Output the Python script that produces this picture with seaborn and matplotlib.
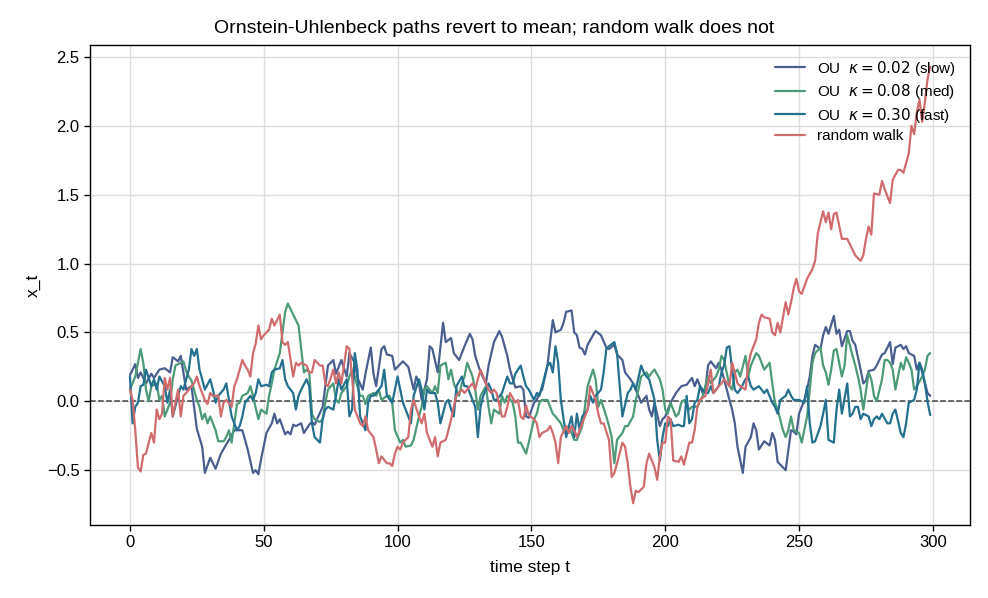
import pandas as pd
import matplotlib.pyplot as plt
import seaborn as sns

# values, as (time step, x_t)
slow_pts = [(0, .19), (2, .27), (3, .17), (4, .21), (6, .13), (8, .2), (9, .17), (11, .23), (13, .24), (15, .21),
            (16, .32), (18, .29), (19, .33), (21, .085), (23, .11), (25, -.2), (27, -.33), (28, -.52), (30, -.41),
            (32, -.49), (34, -.38), (37, -.28), (39, -.21), (42, -.21), (44, -.35), (46, -.52), (47, -.5), (48, -.53),
            (49, -.42), (51, -.23), (53, -.16), (54, -.09), (55, -.16), (56, -.13), (58, -.24), (59, -.22), (60, -.24),
            (61, -.17), (62, -.18), (64, -.16), (65, -.23), (67, -.17), (68, -.15), (69, -.17), (72, -.04), (73, .11),
            (74, .26), (76, .3), (77, .2), (79, .3), (81, .18), (82, .35), (84, .28), (85, .17), (87, .085), (88, .2),
            (90, .39), (91, .2), (92, .11), (94, .38), (95, .4), (96, .34), (98, .33), (99, .23), (102, .29), (104, .25),
            (106, .085), (107, .18), (108, .13), (109, .01), (111, .16), (112, .4), (113, .38), (115, .21), (117, .57),
            (118, .43), (120, .46), (121, .35), (123, .3), (125, .4), (127, .49), (128, .45), (129, .33), (131, .21),
            (133, .13), (134, .26), (136, .43), (138, .51), (139, .47), (141, .33), (142, .23), (144, .1), (146, .11),
            (147, .085), (148, -.11), (149, -.12), (151, -.01), (152, .01), (153, .06), (154, .085), (156, .26),
            (157, .43), (158, .59), (159, .5), (161, .52), (162, .57), (163, .65), (165, .66), (166, .5), (167, .48),
            (168, .39), (169, .38), (170, .34), (171, .41), (173, .48), (174, .51), (176, .48), (178, .39), (179, .38),
            (181, .41), (182, .34), (184, .3), (185, .21), (187, .16), (188, .13), (189, .085), (191, -.01), (193, .04),
            (194, -.06), (195, -.11), (196, -.01), (198, -.18), (199, -.13), (200, -.11), (202, -.01), (204, .06),
            (206, .11), (208, .12), (210, .17), (211, .11), (212, .16), (214, .06), (215, .085), (216, .26), (217, .29),
            (219, .24), (220, .28), (221, .23), (222, .16), (224, .01), (225, -.06), (226, -.16), (227, -.33),
            (229, -.52), (230, -.33), (232, -.26), (233, -.16), (234, -.21), (235, -.35), (237, -.29), (239, -.32),
            (240, -.23), (241, -.28), (242, -.44), (245, -.5), (247, -.21), (248, -.22), (249, -.24), (250, -.09),
            (251, -.04), (252, .01), (253, .085), (254, .18), (255, .33), (256, .41), (258, .38), (259, .48), (260, .54),
            (261, .49), (263, .62), (264, .49), (265, .52), (266, .4), (268, .51), (269, .51), (270, .44), (271, .41),
            (273, .23), (274, .13), (275, .15), (276, .22), (278, .23), (279, .26), (281, .34), (282, .35), (284, .43),
            (285, .27), (286, .39), (288, .41), (289, .38), (290, .4), (291, .35), (293, .33), (294, .23), (295, .28),
            (296, .21), (298, .06), (299, .04)]

med_pts = [(0, .085), (2, .18), (3, .28), (4, .38), (5, .28), (6, .085), (7, 0), (8, .11), (10, .13), (11, .01), (12, .04),
           (13, -.11), (15, -.01), (16, .16), (17, .26), (18, .27), (20, .29), (21, .22), (22, .18), (23, .15), (25, .01),
           (26, -.04), (27, -.13), (28, -.09), (29, -.16), (30, -.11), (32, -.21), (33, -.29), (35, -.29), (36, -.26),
           (37, -.21), (38, -.3), (40, -.02), (41, -.01), (42, .04), (44, .06), (45, .11), (46, .04), (47, -.05),
           (48, -.13), (49, -.06), (51, -.09), (52, .04), (53, .13), (54, .23), (56, .35), (57, .5), (58, .65), (59, .71),
           (60, .67), (61, .63), (63, .55), (64, .38), (65, .21), (66, .23), (67, .21), (68, -.09), (69, -.13),
           (71, -.15), (72, -.13), (73, -.01), (74, .085), (76, .13), (77, .01), (78, -.01), (79, .06), (81, .11),
           (82, .18), (83, .23), (84, .18), (86, .04), (87, .04), (88, -.02), (89, .04), (91, .06), (92, .04), (93, .085),
           (94, .01), (96, .04), (97, .04), (98, -.01), (99, -.21), (101, -.3), (102, -.28), (103, -.33), (105, -.32),
           (106, -.28), (108, -.11), (109, -.04), (110, .085), (111, .11), (113, .06), (114, .11), (115, .06), (116, .26),
           (118, .28), (119, .16), (120, .23), (121, .13), (123, .04), (124, .13), (125, .18), (126, .28), (128, .18),
           (129, .085), (130, -.06), (131, .04), (133, .11), (134, -.04), (135, -.16), (136, -.06), (138, -.09),
           (139, .04), (140, -.01), (141, .04), (143, -.01), (144, -.11), (145, -.3), (146, -.3), (148, -.38),
           (149, -.3), (151, -.13), (152, -.09), (153, -.01), (154, .01), (156, .01), (157, -.04), (158, -.09),
           (159, -.11), (161, -.16), (162, -.21), (163, -.23), (164, -.18), (166, -.28), (167, -.28), (169, -.18),
           (170, -.04), (171, .11), (173, .23), (174, .16), (175, -.04), (176, .01), (178, -.11), (179, -.18),
           (180, -.26), (181, -.45), (182, -.28), (184, -.23), (185, -.18), (186, -.18), (188, -.11), (189, .01),
           (190, .085), (191, .18), (193, .21), (194, .18), (195, .21), (196, .23), (198, .16), (199, .085), (200, -.06),
           (201, -.09), (202, -.01), (204, -.11), (205, -.09), (206, -.01), (207, .01), (209, -.06), (210, -.04),
           (211, -.04), (212, -.04), (214, .04), (215, .11), (216, .18), (217, .13), (219, .18), (220, .23), (221, .33),
           (222, .3), (224, .11), (225, .085), (226, .21), (227, .23), (228, .18), (230, .33), (231, .18), (232, .26),
           (234, .35), (235, .33), (236, .28), (237, .23), (239, .28), (240, .13), (241, -.01), (242, -.06), (244, -.21),
           (245, -.26), (246, -.21), (247, -.11), (248, -.21), (250, -.23), (251, -.3), (253, -.11), (254, .085),
           (255, .28), (256, .35), (258, .39), (259, .26), (260, .21), (261, .12), (262, .23), (263, .37), (264, .38),
           (266, .18), (267, .26), (268, .48), (270, .33), (271, .26), (272, .18), (273, .085), (274, -.06), (276, .21),
           (277, .16), (278, .04), (279, 0), (281, .16), (282, .3), (283, .3), (284, .28), (285, .23), (286, .085),
           (288, .28), (289, .23), (290, .32), (291, .28), (292, .23), (293, .085), (294, .11), (296, .18), (297, .23),
           (298, .33), (299, .35)]

fast_pts = [(0, .18), (1, -.16), (2, -.04), (3, -.01), (4, .11), (5, .12), (6, .23), (8, .11), (9, .16), (10, .085),
            (11, .18), (13, .11), (14, -.01), (15, .085), (16, -.11), (18, .04), (19, .11), (20, .085), (22, .23),
            (23, .38), (24, .33), (25, .38), (26, .23), (27, .16), (28, .085), (30, .16), (31, .085), (32, -.01),
            (33, .04), (35, .085), (36, .13), (37, .01), (38, -.11), (40, -.21), (41, -.18), (42, -.11), (43, -.01),
            (45, .04), (46, .01), (47, .06), (48, .16), (49, .11), (51, .12), (52, .11), (53, .21), (54, .23), (56, .24),
            (57, .3), (58, .16), (59, .11), (61, .06), (62, -.06), (63, .04), (64, .085), (66, .16), (67, .11),
            (68, -.16), (69, -.26), (71, -.3), (72, -.13), (73, -.06), (74, -.04), (76, -.06), (77, .04), (78, .16),
            (79, .085), (81, .16), (82, -.11), (83, -.06), (84, .35), (85, .23), (86, -.11), (88, -.21), (89, -.01),
            (90, .04), (91, .04), (93, .085), (94, .11), (95, .23), (96, .04), (98, -.01), (99, .085), (100, .18),
            (101, .085), (102, -.01), (104, -.11), (105, -.16), (106, .04), (108, .16), (109, .085), (110, -.06),
            (111, .085), (112, .06), (114, .06), (115, -.01), (116, -.16), (118, -.01), (119, .01), (120, -.06),
            (121, -.11), (122, .11), (124, .18), (125, .11), (126, .11), (127, .06), (129, -.04), (130, -.26),
            (131, -.04), (132, .04), (134, .13), (135, .085), (136, .01), (137, .01), (139, .06), (141, .18), (142, .13),
            (143, .13), (144, .2), (146, .26), (147, .18), (148, .11), (149, .085), (151, .01), (152, .06), (153, .04),
            (154, .11), (156, .26), (157, .28), (158, .21), (159, .4), (160, .28), (161, .01), (163, -.26), (164, -.18),
            (165, -.11), (166, -.26), (167, -.09), (168, -.21), (169, -.11), (171, -.06), (172, .04), (173, -.01),
            (174, .04), (176, .085), (177, .21), (178, .38), (179, .4), (181, .43), (182, .35), (183, .11), (184, -.11),
            (186, .06), (187, .085), (188, .13), (189, .085), (191, .26), (192, .21), (193, .18), (194, .16), (196, .01),
            (197, -.28), (198, -.43), (199, -.26), (200, -.16), (201, -.18), (202, -.13), (203, -.18), (205, -.17),
            (206, -.18), (207, -.18), (208, .04), (209, -.16), (210, -.13), (211, -.01), (212, .01), (213, .11),
            (215, .06), (216, .06), (217, .11), (218, .06), (220, .11), (221, .21), (222, .26), (223, .39), (224, .4),
            (225, .23), (226, .085), (227, .06), (228, .085), (230, .16), (231, .18), (232, .11), (233, .085), (235, .11),
            (236, .085), (237, .06), (238, .085), (240, -.01), (241, -.04), (242, -.09), (243, .01), (245, .04),
            (246, .085), (247, .04), (248, .01), (250, .01), (252, -.01), (253, .11), (254, -.16), (255, -.3),
            (256, -.29), (258, -.18), (259, -.09), (260, .01), (261, -.28), (263, -.3), (264, -.06), (265, .085),
            (266, -.09), (268, .13), (269, -.11), (270, -.09), (271, -.04), (272, -.04), (273, -.13), (274, -.09),
            (276, -.11), (277, -.18), (278, -.13), (279, -.11), (280, -.13), (281, -.09), (283, -.16), (284, -.16),
            (285, -.09), (286, -.06), (288, -.23), (289, -.26), (290, -.16), (291, -.01), (293, .01), (294, .085),
            (295, .28), (296, .23), (297, .13), (298, 0), (299, -.1)]

walk_pts = [(0, .085), (1, .01), (2, -.21), (3, -.48), (4, -.51), (5, -.39), (6, -.38), (7, -.3), (8, -.23), (9, -.3),
            (10, -.06), (11, -.13), (12, -.09), (13, .17), (14, .085), (15, .17), (16, -.11), (18, .085), (19, -.11),
            (20, .04), (21, .06), (23, .11), (24, .13), (25, .18), (26, .11), (28, .01), (29, -.02), (30, .06), (31, .04),
            (33, .04), (34, -.11), (35, -.01), (36, .01), (38, -.04), (39, .11), (40, .16), (42, .3), (43, .26),
            (44, .23), (45, .18), (46, .35), (47, .42), (48, .55), (49, .45), (50, .48), (52, .52), (53, .6), (54, .55),
            (56, .63), (57, .43), (58, .41), (59, .43), (61, .18), (62, .28), (63, .26), (64, .28), (66, .26), (67, .21),
            (68, .21), (69, .3), (71, .26), (72, .26), (73, .13), (74, .11), (76, .23), (77, .13), (78, .21), (79, .13),
            (81, .4), (82, .38), (83, .18), (84, -.06), (86, -.16), (87, -.18), (88, -.11), (89, -.21), (91, -.26),
            (92, -.35), (93, -.45), (94, -.4), (96, -.45), (97, -.45), (98, -.47), (99, -.38), (100, -.33), (101, -.35),
            (102, -.3), (104, -.26), (105, -.06), (106, .01), (108, -.11), (109, -.16), (110, -.09), (111, -.23),
            (113, -.33), (114, -.26), (115, -.4), (116, -.3), (118, -.28), (119, -.21), (120, -.13), (121, -.04),
            (122, .04), (124, .085), (125, .06), (126, .085), (128, .13), (129, .085), (130, .16), (131, .23), (133, .13),
            (134, .085), (135, .06), (136, .085), (137, .06), (139, -.11), (140, -.11), (141, -.04), (142, .06),
            (144, -.01), (145, .01), (146, -.11), (147, -.13), (148, -.03), (149, -.1), (151, -.13), (152, -.16),
            (153, -.26), (154, -.23), (156, -.21), (157, -.18), (158, -.23), (159, -.3), (160, -.45), (161, -.26),
            (163, -.18), (164, -.23), (165, -.18), (166, -.21), (167, -.26), (169, -.16), (170, -.11), (171, -.06),
            (172, .11), (174, .01), (175, -.09), (176, -.16), (177, -.16), (179, -.28), (180, -.55), (181, -.52),
            (182, -.45), (184, -.3), (185, -.33), (186, -.45), (187, -.62), (188, -.74), (189, -.65), (190, -.66),
            (192, -.62), (193, -.45), (194, -.38), (196, -.48), (197, -.57), (198, -.4), (199, -.3), (200, -.3),
            (201, -.11), (202, -.13), (203, -.43), (205, -.44), (206, -.4), (207, -.46), (209, -.3), (210, -.3),
            (211, -.21), (212, -.04), (213, .01), (215, .04), (216, .13), (217, .23), (218, .06), (220, .11), (221, .13),
            (222, .16), (224, .11), (225, .28), (226, .21), (227, .13), (228, .11), (230, .085), (231, .26), (232, .35),
            (234, .45), (235, .57), (236, .63), (237, .61), (239, .6), (240, .5), (241, .48), (242, .57), (243, .5),
            (245, .72), (246, .63), (247, .72), (248, .82), (249, .89), (250, .8), (251, .78), (253, .89), (255, .96),
            (256, 1.02), (257, 1.22), (259, 1.38), (260, 1.3), (261, 1.37), (262, 1.25), (263, 1.36), (264, 1.37),
            (266, 1.18), (268, 1.18), (270, 1.1), (271, 1.06), (273, 1.02), (274, 1.06), (275, 1.18), (276, 1.27),
            (277, 1.21), (278, 1.51), (280, 1.5), (281, 1.6), (282, 1.54), (284, 1.44), (285, 1.61), (287, 1.68),
            (288, 1.68), (289, 1.66), (291, 1.8), (292, 2.0), (293, 1.94), (294, 2.1), (295, 2.19), (296, 2.03),
            (297, 2.17), (298, 2.34), (299, 2.43)]

labels = [r"OU  $\kappa = 0.02$ (slow)", r"OU  $\kappa = 0.08$ (med)",
          r"OU  $\kappa = 0.30$ (fast)", "random walk"]
colors = ["#4a5e8f", "#4c9a78", "#23708f", "#d06b6e"]


def main():
    sns.set_theme(style="whitegrid")
    plt.rcParams['font.family'] = ['Liberation Sans', 'DejaVu Sans']
    plt.rcParams['axes.edgecolor'] = 'black'
    plt.rcParams['grid.color'] = '#dddddd'
    plt.rcParams['text.color'] = 'black'
    plt.rcParams['axes.labelcolor'] = 'black'
    plt.rcParams['xtick.color'] = 'black'
    plt.rcParams['ytick.color'] = 'black'

    frames = []
    for lab, pts in zip(labels, [slow_pts, med_pts, fast_pts, walk_pts]):
        d = pd.DataFrame(pts, columns=['t', 'x'])
        d['series'] = lab
        frames.append(d)
    df = pd.concat(frames, ignore_index=True)

    fig, ax = plt.subplots(figsize=(9.88, 5.98), dpi=100)
    sns.lineplot(data=df, x='t', y='x', hue='series', palette=dict(zip(labels, colors)),
                 estimator=None, linewidth=1.6, ax=ax)
    ax.axhline(0, color='#444444', linestyle='--', linewidth=1.1, zorder=1)

    # title is centred on the figure, not on the axes
    fig.suptitle('Ornstein-Uhlenbeck paths revert to mean; random walk does not',
                 fontsize=14, x=0.5, y=0.952, va='center')
    ax.set_xlabel('time step t', fontsize=12.5, labelpad=7)
    ax.set_ylabel('x_t', fontsize=12.5)
    ax.tick_params(axis='both', labelsize=12, bottom=True, left=True, length=4, width=1, color='black')
    for s in ax.spines.values():
        s.set_color('black')
        s.set_linewidth(1.0)

    leg = ax.legend(loc='upper right', frameon=False, fontsize=11, labelspacing=0.3)
    leg.set_title(None)

    fig.subplots_adjust(left=0.091, right=0.982, top=0.925, bottom=0.122)
    plt.savefig("out.png")
    plt.close()


if __name__ == "__main__":
    main()
